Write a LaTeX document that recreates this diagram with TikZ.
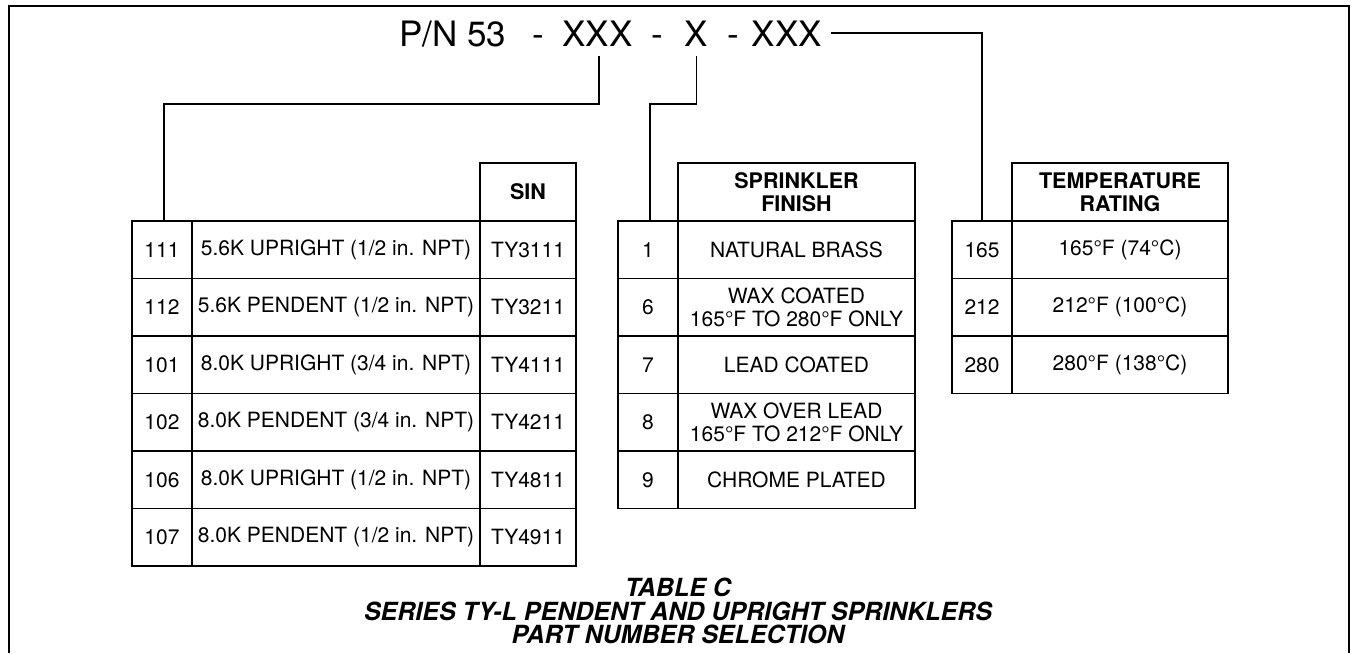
\documentclass[tikz,border=0pt]{standalone}
\usepackage{fontspec}
\setmainfont{TeX Gyre Heros}
\begin{document}
\begin{tikzpicture}[x=1pt,y=-1pt,
  frame/.style={line width=2.4pt},
  conn/.style={line width=1.8pt},
  cell/.style={draw, line width=1.8pt, inner sep=0pt, minimum height=57.5pt, align=center, font=\fontsize{21}{23}\selectfont},
  hcell/.style={cell, minimum height=58pt, font=\fontsize{21.5}{23}\selectfont\bfseries},
  pn/.style={inner sep=0pt, anchor=base, font=\fontsize{35}{40}\selectfont},
  ttl/.style={inner sep=0pt, anchor=base, font=\fontsize{25}{25}\selectfont\bfseries\itshape}
]
\useasboundingbox (0,0) rectangle (1351,653);
% outer frame (open at bottom)
\draw[frame] (9,653) -- (9,6) -- (1349,6) -- (1349,653);

% part number
\node[pn, anchor=base west] (pnA) at (399,46) {P/N 53};
\node[pn] (d1) at (538,46) {-};
\node[pn] (xa) at (597.5,46) {XXX};
\node[pn] (d2) at (657.5,46) {-};
\node[pn] (xb) at (696.5,46) {X};
\node[pn] (d3) at (733,46) {-};
\node[pn] (xc) at (787,46) {XXX};

% table 1
\node[hcell, minimum width=96pt] (t1h) at (528,192) {SIN};
\foreach \i/\a/\b/\c in {1/111/{5.6K UPRIGHT (1/2 in. NPT)}/TY3111,
                         2/112/{5.6K PENDENT (1/2 in. NPT)}/TY3211,
                         3/101/{8.0K UPRIGHT (3/4 in. NPT)}/TY4111,
                         4/102/{8.0K PENDENT (3/4 in. NPT)}/TY4211,
                         5/106/{8.0K UPRIGHT (1/2 in. NPT)}/TY4811,
                         6/107/{8.0K PENDENT (1/2 in. NPT)}/TY4911}{
  \pgfmathsetmacro\yy{221+57.5*(\i-0.5)}
  \node[cell, minimum width=60pt]  (t1r\i a) at (162,\yy) {\a};
  \node[cell, minimum width=288pt] (t1r\i b) at (336,\yy) {\b};
  \node[cell, minimum width=96pt]  (t1r\i c) at (528,\yy) {\c};
}

% table 2
\node[hcell, minimum width=237pt] (t2h) at (796.5,192) {SPRINKLER\\FINISH};
\foreach \i/\a/\b in {1/1/{NATURAL BRASS},
                      2/6/{WAX COATED\\165°F TO 280°F ONLY},
                      3/7/{LEAD COATED},
                      4/8/{WAX OVER LEAD\\165°F TO 212°F ONLY},
                      5/9/{CHROME PLATED}}{
  \pgfmathsetmacro\yy{221+57.5*(\i-0.5)}
  \node[cell, minimum width=60pt]  (t2r\i a) at (648,\yy) {\a};
  \node[cell, minimum width=237pt] (t2r\i b) at (796.5,\yy) {\b};
}

% table 3
\node[hcell, minimum width=216pt] (t3h) at (1120,192) {TEMPERATURE\\RATING};
\foreach \i/\a/\b in {1/165/{165°F (74°C)},
                      2/212/{212°F (100°C)},
                      3/280/{280°F (138°C)}}{
  \pgfmathsetmacro\yy{221+57.5*(\i-0.5)}
  \node[cell, minimum width=60pt]  (t3r\i a) at (982,\yy) {\a};
  \node[cell, minimum width=216pt] (t3r\i b) at (1120,\yy) {\b};
}

% connectors
\draw[conn] ([xshift=1.5pt,yshift=-10pt]xa.south) -- ([xshift=1.5pt]xa.south |- 0,104) -| ([xshift=2pt]t1r1a.north);
\draw[conn] ([yshift=-10pt]xb.south) -- (xb.south |- 0,104) -| ([xshift=2pt]t2r1a.north);
\draw[conn] ([xshift=9pt]xc.east) -| (t3r1a.north);

% title
\node[ttl] (ttl1) at (678,596) {TABLE C};
\node[ttl] (ttl2) at (678,620) {SERIES TY-L PENDENT AND UPRIGHT SPRINKLERS};
\node[ttl] (ttl3) at (678,643) {PART NUMBER SELECTION};
\end{tikzpicture}
\end{document}
